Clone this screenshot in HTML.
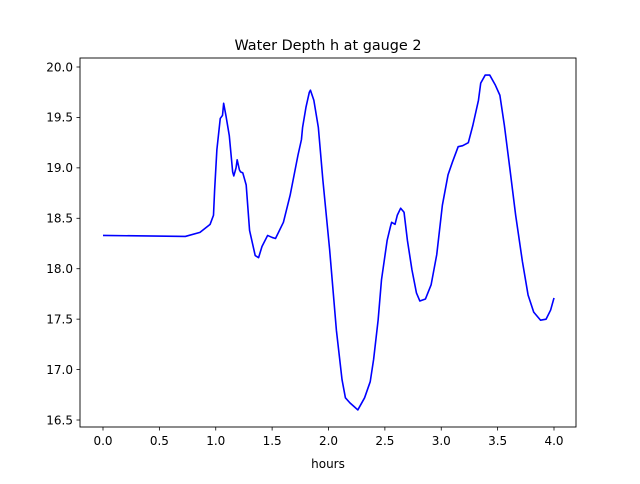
<!DOCTYPE html>
<html><head><meta charset="utf-8"><style>
body{margin:0;background:#fff;font-family:"DejaVu Sans","Liberation Sans",sans-serif}
svg text{font-family:"DejaVu Sans","Liberation Sans",sans-serif;fill:#000}
</style></head><body>
<svg id="c" width="640" height="480">
<rect width="640" height="480" fill="#fff"/>
<text x="328" y="50" font-size="14.4" text-anchor="middle">Water Depth h at gauge 2</text>
<g id="xt"></g>
<g id="yt"></g>
<text x="328" y="468" font-size="12" text-anchor="middle">hours</text>
<polyline id="ln" fill="none" stroke="#0000ff" stroke-width="1.6" stroke-linejoin="round"/>
<rect x="80" y="58" width="496" height="369" fill="none" stroke="#000" stroke-width="0.9"/>
</svg>
<script>
const hours=[0,0.73,0.86,0.95,0.98,0.99,1.01,1.04,1.06,1.07,1.09,1.12,1.15,1.16,1.18,1.19,1.21,1.22,1.24,1.27,1.3,1.35,1.38,1.41,1.46,1.5,1.53,1.6,1.66,1.73,1.76,1.77,1.8,1.83,1.84,1.87,1.91,1.95,2.01,2.07,2.12,2.15,2.19,2.23,2.26,2.32,2.37,2.40,2.44,2.47,2.52,2.55,2.56,2.59,2.61,2.64,2.67,2.7,2.74,2.78,2.81,2.86,2.91,2.96,3.01,3.06,3.1,3.15,3.19,3.24,3.28,3.33,3.35,3.39,3.43,3.48,3.52,3.56,3.61,3.66,3.72,3.77,3.82,3.88,3.93,3.97,4.0];
const depth=[18.33,18.32,18.36,18.44,18.53,18.78,19.18,19.49,19.52,19.64,19.52,19.32,18.96,18.92,19.0,19.08,18.98,18.96,18.95,18.83,18.38,18.13,18.11,18.22,18.33,18.31,18.30,18.46,18.73,19.13,19.28,19.40,19.6,19.75,19.77,19.67,19.4,18.88,18.19,17.39,16.9,16.72,16.67,16.63,16.6,16.72,16.88,17.1,17.49,17.89,18.28,18.42,18.46,18.44,18.53,18.60,18.56,18.28,17.99,17.76,17.68,17.70,17.84,18.14,18.63,18.93,19.06,19.21,19.22,19.25,19.42,19.67,19.84,19.92,19.92,19.82,19.72,19.42,18.98,18.53,18.07,17.74,17.57,17.49,17.50,17.59,17.71];
const xTicks=[0,0.5,1,1.5,2,2.5,3,3.5,4];
const xTickLabels=["0.0","0.5","1.0","1.5","2.0","2.5","3.0","3.5","4.0"];
const yTicks=[16.5,17,17.5,18,18.5,19,19.5,20];
const yTickLabels=["16.5","17.0","17.5","18.0","18.5","19.0","19.5","20.0"];
const X=t=>103+t*112.75;
const Y=v=>67+(20-v)*100.86;
const NS="http://www.w3.org/2000/svg";
function mk(tag,attrs,parent){const e=document.createElementNS(NS,tag);for(const k in attrs)e.setAttribute(k,attrs[k]);parent.appendChild(e);return e;}
const xt=document.getElementById('xt'),yt=document.getElementById('yt');
xTicks.forEach((t,i)=>{
 const l=mk('line',{x1:X(t),x2:X(t),y1:427,y2:430.5,stroke:'#000','stroke-width':0.8},xt);
 
 
 const tx=mk('text',{x:X(t),y:445,'font-size':12,'text-anchor':'middle'},xt);
 tx.textContent=xTickLabels[i];
 
 
});
yTicks.forEach((v,i)=>{
 const l=mk('line',{x1:76.5,x2:80,y1:Y(v),y2:Y(v),stroke:'#000','stroke-width':0.8},yt);
 
 
 const tx=mk('text',{x:73,y:Y(v)+4.3,'font-size':12,'text-anchor':'end'},yt);
 tx.textContent=yTickLabels[i];
 
 
});
document.getElementById('ln').setAttribute('points',hours.map((t,i)=>X(t)+','+Y(depth[i])).join(' '));
</script>
</body></html>
